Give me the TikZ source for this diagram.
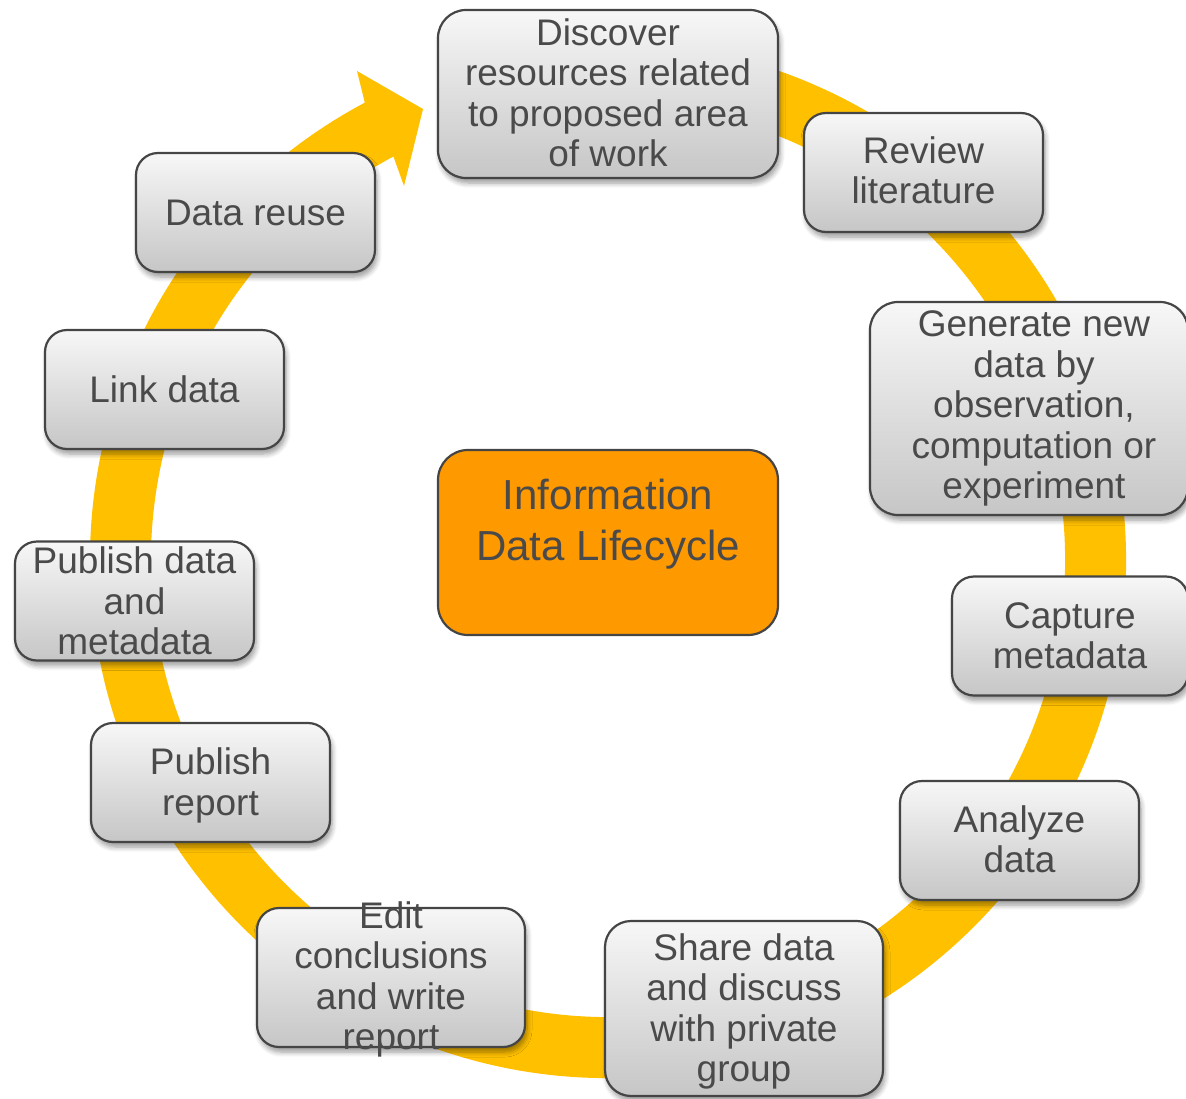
\documentclass[tikz,border=0pt]{standalone}
\usepackage{fontspec}
\setmainfont{Liberation Sans}
\usetikzlibrary{calc,shadows.blur}
\definecolor{ringc}{HTML}{FFC000}
\definecolor{centerc}{HTML}{FF9900}
\definecolor{txt}{HTML}{4A4A4A}
\definecolor{edgec}{HTML}{454545}
\definecolor{boxtop}{HTML}{F7F7F7}
\definecolor{boxbot}{HTML}{C6C6C6}
\begin{document}
\begin{tikzpicture}[x=1pt,y=-1pt,
  stepbox/.style={draw=edgec, line width=2.2pt, rounded corners=22pt,
    top color=boxtop, bottom color=boxbot, inner sep=0pt,
    minimum width=239pt, minimum height=119pt,
    blur shadow={shadow xshift=2pt, shadow yshift=-5pt, shadow blur steps=6, shadow blur radius=5pt, shadow opacity=40}},
  steptext/.style={align=center, text=txt, inner sep=0pt, font=\fontsize{37}{40.5}\selectfont},
  centertext/.style={align=center, text=txt, inner sep=0pt, font=\fontsize{42}{51}\selectfont}
]
\useasboundingbox (0,0) rectangle (1186,1098);
\coordinate (C) at (608,560);
% ring with arrow head
\fill[ringc] ($(C)+(-100:518)$) arc[start angle=-100, end angle=242, radius=518]
  -- (357,71) -- (423,109) -- (404,186)
  -- ($(C)+(242:457)$) arc[start angle=242, end angle=-100, radius=457] -- cycle;

% boxes
\node[stepbox, minimum width=340pt, minimum height=168pt, rounded corners=28pt] (discover) at (608,94) {};
\node[steptext] at ([yshift=1pt]discover.center) {Discover\\resources related\\to proposed area\\of work};

\node[stepbox] (review) at (923.5,172.5) {};
\node[steptext] at ([yshift=2pt]review.center) {Review\\literature};

\node[stepbox, minimum width=318pt, minimum height=213pt, rounded corners=28pt] (generate) at (1029,408.5) {};
\node[steptext] at ([xshift=5pt]generate.center) {Generate new\\data by\\observation,\\computation or\\experiment};

\node[stepbox, minimum width=236pt] (capture) at (1070,636) {};
\node[steptext] at (capture.center) {Capture\\metadata};

\node[stepbox] (analyze) at (1019.5,840.5) {};
\node[steptext] at ([yshift=1pt]analyze.center) {Analyze\\data};

\node[stepbox, minimum width=278pt, minimum height=175pt, rounded corners=26pt] (share) at (744,1008.5) {};
\node[steptext] at ([yshift=-3pt]share.center) {Share data\\and discuss\\with private\\group};

\node[stepbox, minimum width=268pt, minimum height=139pt] (edit) at (391,977.5) {};
\node[steptext] at ([yshift=-2pt]edit.center) {Edit\\conclusions\\and write\\report};

\node[stepbox] (pubreport) at (210.5,782.5) {};
\node[steptext] at ([yshift=-3pt]pubreport.center) {Publish\\report};

\node[stepbox] (pubdata) at (134.5,601) {};
\node[steptext] at (pubdata.center) {Publish data\\and\\metadata};

\node[stepbox] (link) at (164.5,389.5) {};
\node[steptext] at (link.center) {Link data};

\node[stepbox] (reuse) at (255.5,212.5) {};
\node[steptext] at (reuse.center) {Data reuse};

% centre
\node[draw=edgec, line width=2.2pt, fill=centerc, rounded corners=30pt,
  minimum width=340pt, minimum height=185pt, inner sep=0pt] (center) at (608,542.5) {};
\node[centertext] at (608,524) {Information\\Data Lifecycle};
\end{tikzpicture}
\end{document}
